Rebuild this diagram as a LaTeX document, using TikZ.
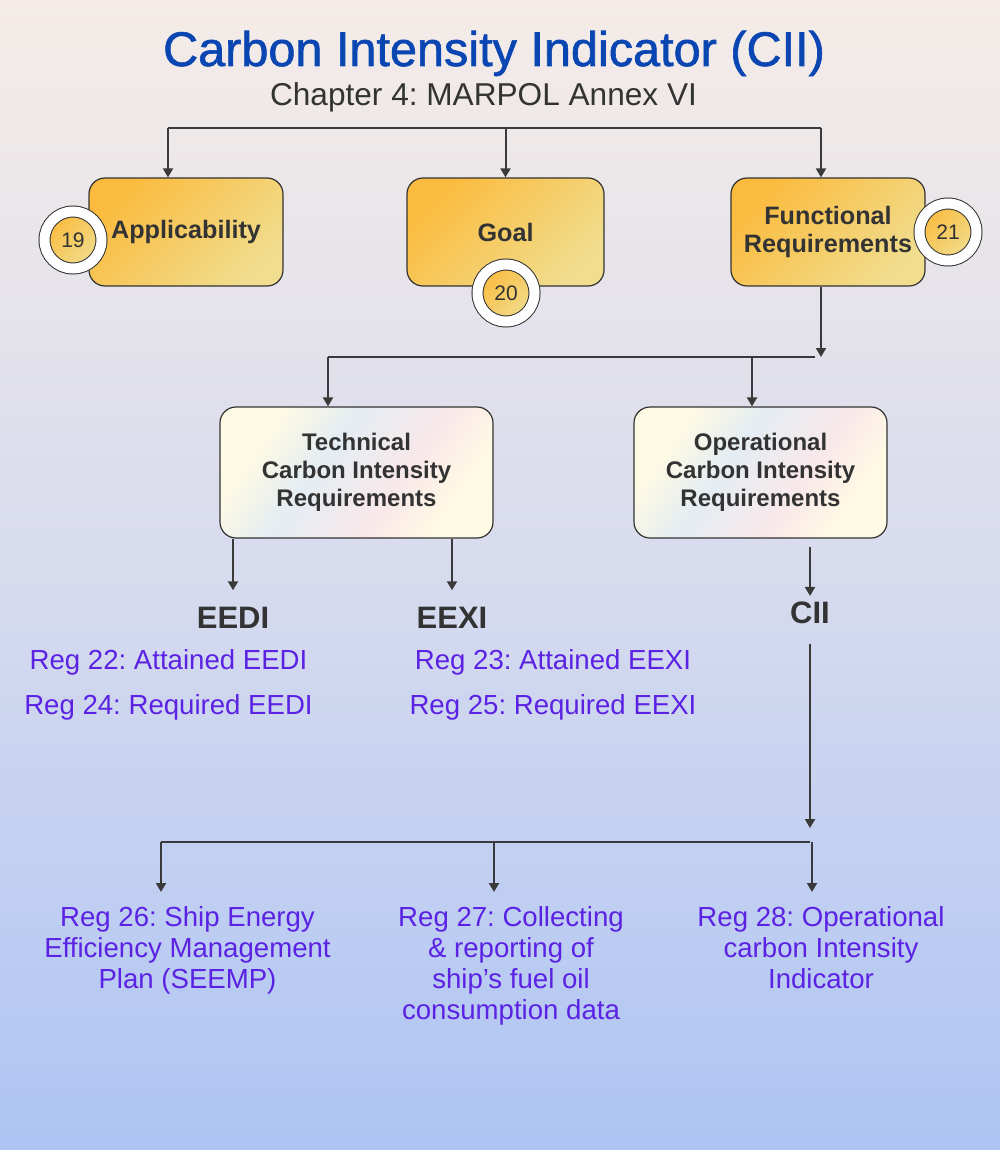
\documentclass[tikz,border=0pt]{standalone}
\usepackage{fontspec}
\setmainfont{Liberation Sans}
\newfontfamily\titlefont{Liberation Sans}[FakeBold=1.3]
\frenchspacing
\usepackage{tikz}
\usetikzlibrary{arrows.meta}
\definecolor{TitleBlue}{HTML}{0A46B2}
\definecolor{InkGray}{HTML}{333333}
\definecolor{WireGray}{HTML}{3A3A3A}
\definecolor{RegPurple}{HTML}{5B22E4}
\definecolor{BoxOrange}{HTML}{FBBB3E}
\definecolor{BoxSand}{HTML}{F0DD8E}
\definecolor{SkyTop}{HTML}{F5ECE7}
\definecolor{SkyMid}{HTML}{D7DBEE}
\definecolor{SkyBottom}{HTML}{ADC4F4}
\definecolor{PastelYellow}{HTML}{FFFAE3}
\definecolor{PastelBlue}{HTML}{E4EDF3}
\definecolor{PastelPink}{HTML}{F9E8EA}
\pgfdeclarehorizontalshading{pastel}{100bp}{color(0bp)=(PastelYellow); color(27bp)=(PastelYellow); color(42bp)=(PastelBlue); color(60bp)=(PastelPink); color(73bp)=(PastelYellow); color(100bp)=(PastelYellow)}

\begin{document}
\begin{tikzpicture}[x=0.5pt,y=-0.5pt, every node/.style={text=InkGray, inner sep=0pt},
  wire/.style={draw=WireGray, line width=1pt},
  link/.style={wire, -{Triangle[width=5pt,length=4.5pt]}},
  goldbox/.style={draw=InkGray, line width=0.6pt, rounded corners=8pt, top color=BoxOrange, bottom color=BoxSand, shading angle=45, minimum height=54pt, align=center, font=\bfseries\fontsize{12.6}{14}\selectfont},
  pastelbox/.style={draw=InkGray, line width=0.6pt, rounded corners=8pt, shading=pastel, shading angle=-35, minimum height=65.5pt, align=center, font=\bfseries\fontsize{12}{14}\selectfont},
  badge/.style={circle, draw=InkGray, line width=0.5pt, double=white, double distance=5pt, top color=BoxOrange, bottom color=BoxSand, shading angle=45, minimum size=28.5pt, font=\fontsize{10.5}{12}\selectfont},
  acronym/.style={font=\bfseries\fontsize{15.5}{18}\selectfont},
  reg/.style={text=RegPurple, align=center, font=\fontsize{13.8}{15.5}\selectfont}]
  \fill[top color=SkyTop, bottom color=SkyBottom, middle color=SkyMid] (0,0) rectangle (1000,1150);
  \node[anchor=base, text=TitleBlue, font=\titlefont\fontsize{24.3}{28}\selectfont] (title) at (494,66) {Carbon Intensity Indicator (CII)};
  \node[anchor=base, font=\fontsize{15.8}{18}\selectfont] (subtitle) at (483.5,106) {Chapter 4: MARPOL Annex VI};
  \node[goldbox, minimum width=97pt] (applic) at (186,232) {Applicability};
  \node[goldbox, minimum width=98.5pt] (goal) at (505.5,232) {Goal};
  \node[goldbox, minimum width=97pt] (func) at (828,232) {Functional\\Requirements};
  \node[badge] (b19) at (73,240) {19};
  \node[badge] (b20) at (506,293) {20};
  \node[badge] (b21) at (948,232) {21};
  \coordinate (busTopL) at (168,128);
  \coordinate (busTopR) at (821,128);
  \draw[wire] (busTopL) -- (busTopR);
  \draw[link] (busTopL) -- (busTopL |- applic.north);
  \draw[link] (goal.north |- busTopL) -- (goal.north);
  \draw[link] (busTopR) -- (busTopR |- func.north);
  \node[pastelbox, minimum width=136.5pt] (tech) at (356.5,472.5) {Technical\\Carbon Intensity\\Requirements};
  \node[pastelbox, minimum width=126.5pt] (oper) at (760.5,472.5) {Operational\\Carbon Intensity\\Requirements};
  \coordinate (funcOut) at (821,357);
  \coordinate (busMidL) at (328,357);
  \coordinate (busMidR) at (815,357);
  \coordinate (operIn) at (752,357);
  \draw[link] (funcOut |- func.south) -- (funcOut);
  \draw[wire] (busMidL) -- (busMidR);
  \draw[link] (busMidL) -- (busMidL |- tech.north);
  \draw[link] (operIn) -- (operIn |- oper.north);
  \node[acronym, anchor=base] (eedi) at (233,628) {EEDI};
  \node[acronym, anchor=base] (eexi) at (452,628) {EEXI};
  \node[acronym, anchor=base] (cii) at (810,623) {CII};
  \draw[link, shorten >=8pt] (eedi |- tech.south) -- (eedi.north);
  \draw[link, shorten >=8pt] (eexi |- tech.south) -- (eexi.north);
  \draw[link, shorten <=4pt, shorten >=2.5pt] (cii |- oper.south) -- (cii.north);
  \node[reg, anchor=base] (reg22) at (168.5,669) {Reg 22: Attained EEDI};
  \node[reg, anchor=base] (reg24) at (168.5,714) {Reg 24: Required EEDI};
  \node[reg, anchor=base] (reg23) at (553,669) {Reg 23: Attained EEXI};
  \node[reg, anchor=base] (reg25) at (553,714) {Reg 25: Required EEXI};
  \coordinate (ciiOut) at (810,828);
  \coordinate (busLowL) at (161,842);
  \coordinate (busLowR) at (810,842);
  \draw[link, shorten <=10pt] (cii.south) -- (ciiOut);
  \draw[wire] (busLowL) -- (busLowR);
  \node[reg, anchor=north] (reg26) at (187.5,906) {Reg 26: Ship Energy\\Efficiency Management\\Plan (SEEMP)};
  \node[reg, anchor=north] (reg27) at (511,906) {Reg 27: Collecting\\\& reporting of\\ship’s fuel oil\\consumption data};
  \node[reg, anchor=north] (reg28) at (821,906) {Reg 28: Operational\\carbon Intensity\\Indicator};
  \draw[link, shorten >=7pt] (busLowL) -- (busLowL |- reg26.north);
  \draw[link, shorten >=7pt] (494,842) -- (494,906);
  \draw[link, shorten >=7pt] (812,842) -- (812,906);
\end{tikzpicture}
\end{document}
